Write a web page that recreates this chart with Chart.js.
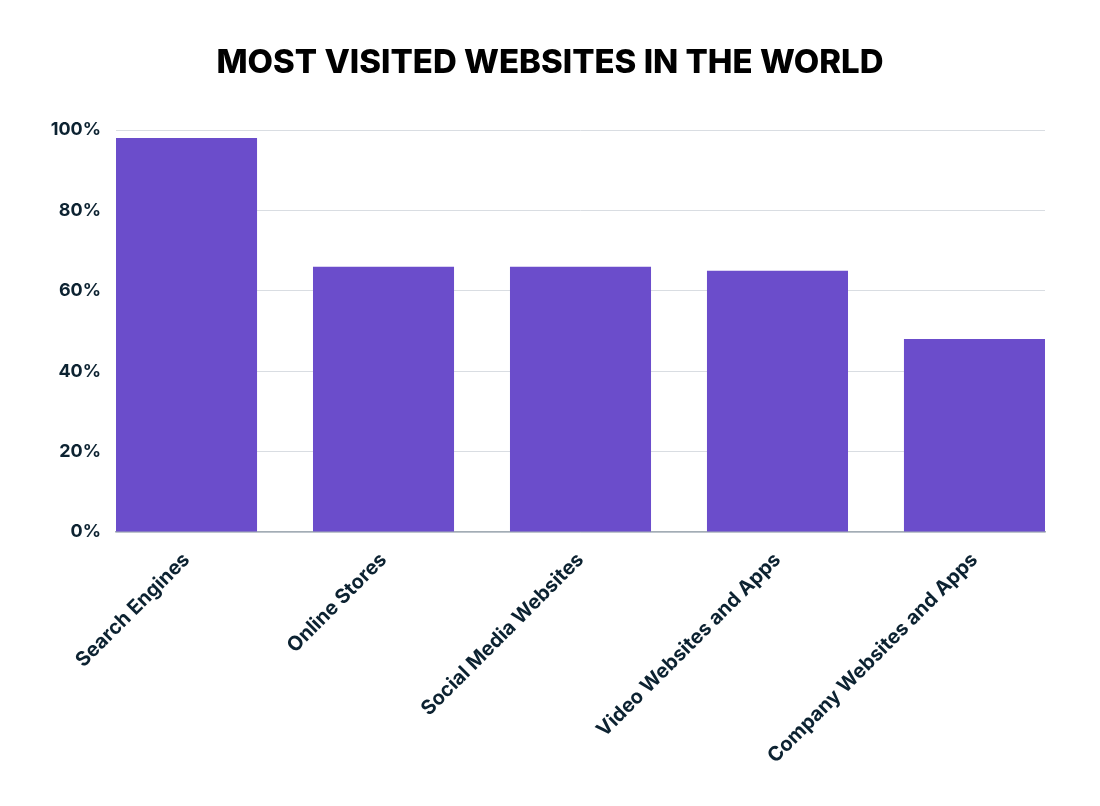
<!DOCTYPE html>
<html>
<head>
<meta charset="utf-8">
<script src="https://cdn.jsdelivr.net/npm/chart.js@4/dist/chart.umd.min.js"></script>
<style>
  html,body{margin:0;padding:0;background:#fff;}
  #wrap{width:1100px;height:806px;}
</style>
</head>
<body>
<div id="wrap"><canvas id="webChart" width="1100" height="806"></canvas></div>
<script>
// data
const categories=['Search Engines','Online Stores','Social Media Websites','Video Websites and Apps','Company Websites and Apps'];
const shares=[98,66,66,65,48];
const yTicks=[0,20,40,60,80,100];

const barPct=0.716;
const textColor='#0c2231';

const ctx=document.getElementById('webChart').getContext('2d');
const myChart=new Chart(ctx,{
    type:'bar',
    data:{
        datasets:[{
            data:categories.map((c,i)=>({x:i,y:shares[i]})),
            backgroundColor:'#6b4dcb',
            borderWidth:0,
            barPercentage:barPct,
            categoryPercentage:1
        }]
    },
    options:{
        responsive:false,
        animation:false,
        layout:{padding:0},
        plugins:{
            legend:{display:false},
            tooltip:{enabled:false},
            title:{
                display:true,
                text:'MOST VISITED WEBSITES IN THE WORLD',
                color:'#000',
                font:{family:'Inter',size:33,weight:'800',lineHeight:1.2},
                padding:{top:43,bottom:47.4}
            }
        },
        scales:{
            x:{
                type:'linear',
                offset:false,
                min:-barPct/2,
                max:categories.length-1+barPct/2,
                afterBuildTicks:(s)=>{ s.ticks=categories.map((c,i)=>({value:i})); },
                afterFit:(s)=>{ s.height=274; },
                grid:{display:false,offset:false},
                border:{display:true,color:'#a3adb5',width:1.5},
                ticks:{
                    autoSkip:false,
                    minRotation:45,
                    maxRotation:45,
                    padding:8,
                    color:textColor,
                    font:{family:'Inter',size:20,weight:'700'},
                    callback:(v)=>categories[v]
                }
            },
            y:{
                min:0,
                max:100,
                afterBuildTicks:(s)=>{ s.ticks=yTicks.map(v=>({value:v})); },
                afterFit:(s)=>{ s.width=116; },
                grid:{color:'#d9dde2',lineWidth:1,drawTicks:false},
                border:{display:false},
                ticks:{
                    padding:15,
                    color:textColor,
                    font:{family:'Inter',size:18,weight:'700'},
                    callback:(v)=>v+'%'
                }
            },
            // empty right axis, only keeps the right margin
            yRight:{
                position:'right',
                afterFit:(s)=>{ s.width=55; },
                grid:{display:false},
                border:{display:false},
                ticks:{display:false}
            }
        }
    }
});
</script>
</body>
</html>
